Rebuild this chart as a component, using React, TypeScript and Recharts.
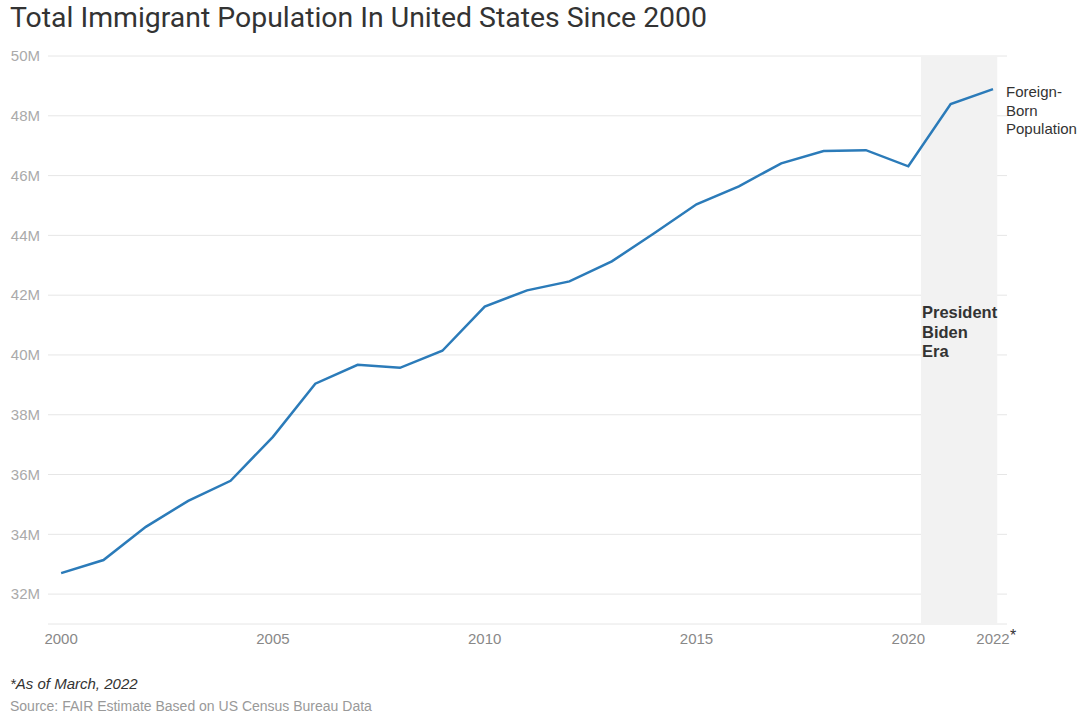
import {
  LineChart,
  Line,
  XAxis,
  YAxis,
  CartesianGrid,
  ReferenceArea,
} from 'recharts';

const years = [
  2000, 2001, 2002, 2003, 2004, 2005, 2006, 2007, 2008, 2009, 2010,
  2011, 2012, 2013, 2014, 2015, 2016, 2017, 2018, 2019, 2020, 2021, 2022,
];
const foreignBorn = [
  32.7, 33.14, 34.25, 35.12, 35.79, 37.26, 39.04, 39.67, 39.57, 40.14, 41.62,
  42.16, 42.46, 43.13, 44.07, 45.04, 45.64, 46.41, 46.82, 46.85, 46.31, 48.39, 48.89,
];
const yTicks = [32, 34, 36, 38, 40, 42, 44, 46, 48, 50];
const xTicks = [2000, 2005, 2010, 2015, 2020, 2022];
const bidenEra = [2020.3, 2022.1];
const seriesLines = ['Foreign-', 'Born', 'Population'];
const eraLines = ['President', 'Biden', 'Era'];

const data = years.map((year, i) => ({ year, value: foreignBorn[i] }));

const FONT = '"Liberation Sans", Arial, sans-serif';

function XTick(props: any) {
  const { x, y, payload } = props;
  const last = payload.value === 2022;
  return (
    <g>
      <text x={x} y={y + 12} textAnchor="middle" fontSize={15} fill="#888" fontFamily={FONT}>
        {payload.value}
      </text>
      {last && (
        <text x={x + 17} y={y + 9} fontSize={16} fill="#333" fontFamily={FONT}>*</text>
      )}
    </g>
  );
}

function EndLabel(props: any) {
  const { x, y, index } = props;
  if (index !== data.length - 1) return null;
  return (
    <text x={x + 13} y={y + 8} fontSize={15} fill="#333" fontFamily={FONT}>
      {seriesLines.map((t, i) => (
        <tspan key={t} x={x + 13} dy={i === 0 ? 0 : 18.5}>{t}</tspan>
      ))}
    </text>
  );
}

function EraLabel(props: any) {
  const { viewBox } = props;
  const x = viewBox.x + 1;
  const y = viewBox.y + 262;
  return (
    <text x={x} y={y} fontSize={16.5} fontWeight={700} fill="#333" fontFamily={FONT}>
      {eraLines.map((t, i) => (
        <tspan key={t} x={x} dy={i === 0 ? 0 : 19.5}>{t}</tspan>
      ))}
    </text>
  );
}

export default function App() {
  return (
    <div style={{
      position: 'fixed',
      left: 0,
      top: 0,
      width: 1084,
      height: 715,
      background: '#fff',
      fontFamily: FONT,
    }}>
      <div style={{
        position: 'absolute',
        left: 10,
        top: 0,
        fontSize: 28.4,
        fontFamily: 'Roboto, sans-serif',
        color: '#333',
        lineHeight: '36px',
        whiteSpace: 'nowrap',
      }}>
        Total Immigrant Population In United States Since 2000
      </div>
      <LineChart
        width={1084}
        height={660}
        data={data}
        margin={{ top: 56, right: 77, bottom: 6, left: 8 }}
      >
        <CartesianGrid vertical={false} stroke="#e6e6e6" />
        <ReferenceArea
          x1={bidenEra[0]}
          x2={bidenEra[1]}
          y1={31}
          y2={50}
          fill="#f2f2f2"
          fillOpacity={1}
          strokeOpacity={0}
          label={<EraLabel />}
        />
        <XAxis
          dataKey="year"
          type="number"
          domain={[1999.69, 2022.33]}
          ticks={xTicks}
          tick={<XTick />}
          tickLine={false}
          axisLine={false}
          height={30}
          interval={0}
        />
        <YAxis
          domain={[31, 50]}
          ticks={yTicks}
          tickFormatter={(v) => `${v}M`}
          tick={{ fontSize: 15, fill: '#aaa', fontFamily: FONT }}
          tickLine={false}
          axisLine={false}
          width={40}
          interval={0}
        />
        <Line
          type="linear"
          dataKey="value"
          stroke="#2b7bb9"
          strokeWidth={2.5}
          dot={false}
          activeDot={false}
          isAnimationActive={false}
          label={<EndLabel />}
        />
      </LineChart>
      <div style={{
        position: 'absolute',
        left: 10,
        top: 675,
        fontSize: 15,
        lineHeight: '18px',
        fontStyle: 'italic',
        color: '#333',
      }}>
        *As of March, 2022
      </div>
      <div style={{
        position: 'absolute',
        left: 10,
        top: 698,
        fontSize: 14,
        lineHeight: '16px',
        color: '#999',
      }}>
        Source: FAIR Estimate Based on US Census Bureau Data
      </div>
    </div>
  );
}
